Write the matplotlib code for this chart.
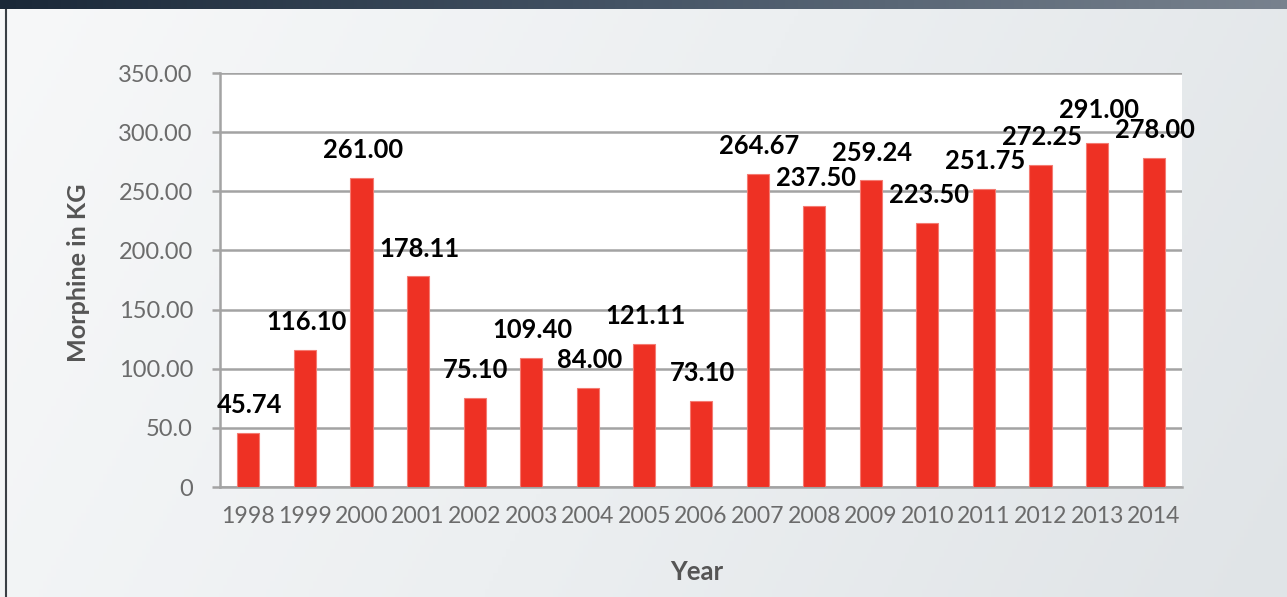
import numpy as np
import matplotlib
matplotlib.use("Agg")
import matplotlib.pyplot as plt
from matplotlib.colors import LinearSegmentedColormap

plt.rcParams['font.family'] = ['Lato', 'DejaVu Sans']

years = ['1998', '1999', '2000', '2001', '2002', '2003', '2004', '2005', '2006',
         '2007', '2008', '2009', '2010', '2011', '2012', '2013', '2014']
morphine = [45.74, 116.10, 261.00, 178.11, 75.10, 109.40, 84.00, 121.11, 73.10,
            264.67, 237.50, 259.24, 223.50, 251.75, 272.25, 291.00, 278.00]
value_labels = ['45.74', '116.10', '261.00', '178.11', '75.10', '109.40', '84.00', '121.11', '73.10',
                '264.67', '237.50', '259.24', '223.50', '251.75', '272.25', '291.00', '278.00']
ytick_values = [0, 50, 100, 150, 200, 250, 300, 350]
ytick_labels = ['0', '50.0', '100.00', '150.00', '200.00', '250.00', '300.00', '350.00']

# extra vertical offset (points) of individual value labels, to avoid overlaps
label_extra_offset = [0, 0, 0, 0, 0, 0, 0, 0, 0, 0, 0, 0, 0, 0, 0, 3.5, 0]

W, H = 1287, 597
fig = plt.figure(figsize=(W / 100, H / 100), dpi=100)

# background gradient
bg = fig.add_axes([0, 0, 1, 1], zorder=0)
gx, gy = np.meshgrid(np.linspace(0, 1, 300), np.linspace(0, 1, 150))
g = 0.8 * gx + 0.2 * gy
bg_cmap = LinearSegmentedColormap.from_list('bg', ['#f7f8f9', '#eceff1', '#e0e4e7'])
bg.imshow(g, cmap=bg_cmap, aspect='auto', extent=[0, 1, 0, 1], origin='upper')
bg.set_xlim(0, 1)
bg.set_ylim(0, 1)
bg.axis('off')
# left border line
bg.plot([6 / W, 6 / W], [0, 1 - 9 / H], color='#3a3f45', lw=1.5, solid_capstyle='butt')

# top dark bar
top = fig.add_axes([0, 1 - 9 / H, 1, 9 / H], zorder=1)
tb = np.linspace(0, 1, 400)[None, :]
top_cmap = LinearSegmentedColormap.from_list('top', ['#1a2838', '#465566', '#78828e'])
top.imshow(tb, cmap=top_cmap, aspect='auto', extent=[0, 1, 0, 1])
top.axis('off')

# main chart
ax = fig.add_axes([220 / W, 1 - 487 / H, (1182 - 220) / W, (487 - 73) / H], zorder=2)
ax.set_facecolor('white')
x = np.arange(len(years))
ax.bar(x, morphine, width=0.39, color='#ee3124', edgecolor='#f47b72', linewidth=0.8, zorder=3)

for xi, v, lab, dy in zip(x, morphine, value_labels, label_extra_offset):
    ax.annotate(lab, (xi, v), xytext=(1, 20 + dy), textcoords='offset points',
                ha='center', va='center', fontsize=18.4, fontweight='bold', color='#000000',
                zorder=4, annotation_clip=False)

ax.set_xlim(-0.5, len(years) - 0.5)
ax.set_ylim(0, 350)
ax.set_yticks(ytick_values)
ax.set_yticklabels(ytick_labels)
ax.set_xticks(x)
ax.set_xticklabels(years)
ax.yaxis.grid(True, color='#a3a3a3', linewidth=1.8, zorder=0)
ax.set_axisbelow(True)
for s in ['top', 'right']:
    ax.spines[s].set_visible(False)
for s in ['left', 'bottom']:
    ax.spines[s].set_color('#a3a3a3')
    ax.spines[s].set_linewidth(1.8)
ax.tick_params(axis='y', length=6, width=1.8, color='#a3a3a3', pad=13.5,
               labelsize=17, labelcolor='#6b6b6b')
ax.tick_params(axis='x', length=0, pad=14, labelsize=16.6, labelcolor='#6b6b6b')

fig.text(78 / W, 1 - 273 / H, 'Morphine in KG', rotation=90, ha='center', va='center',
         fontsize=18.2, fontweight='bold', color='#555555')
fig.text(697 / W, 1 - 572 / H, 'Year', ha='center', va='center',
         fontsize=18.5, fontweight='bold', color='#555555')

fig.savefig('out.png', dpi=100)
